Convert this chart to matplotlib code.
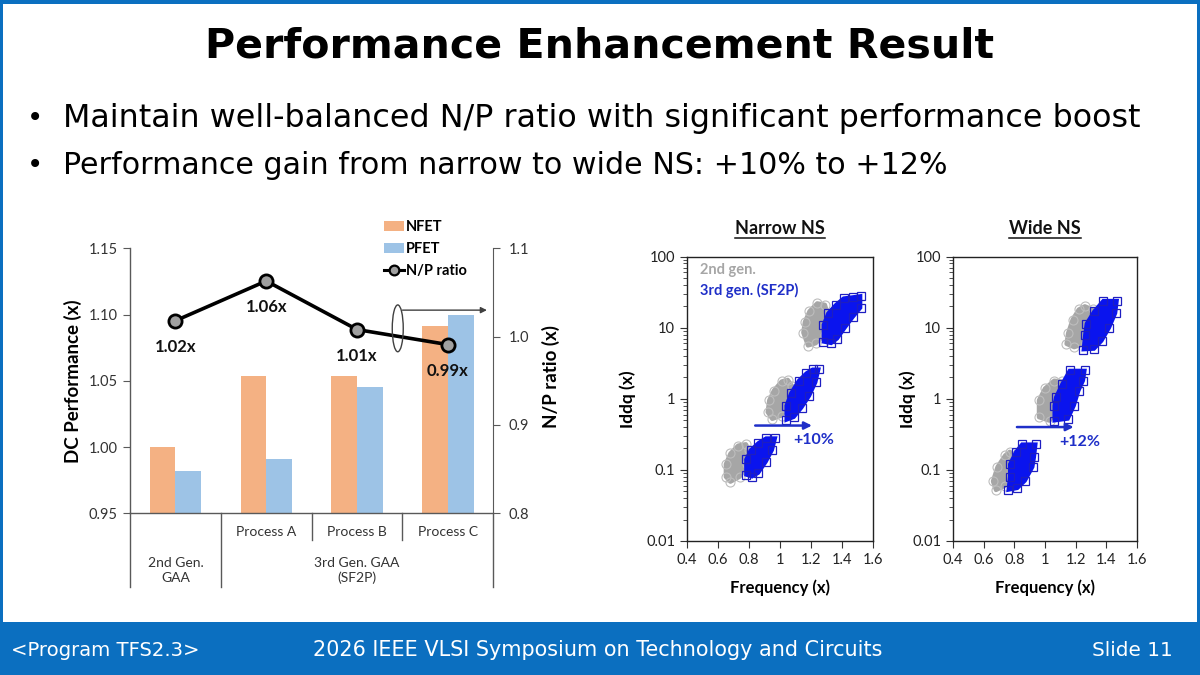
import numpy as np
import matplotlib
matplotlib.use('Agg')
import matplotlib.pyplot as plt
from matplotlib.patches import Rectangle, Ellipse, Patch
from matplotlib.lines import Line2D
import matplotlib.transforms as mtrans
import matplotlib.ticker as mt

# ---------------- data ----------------
title = "Performance Enhancement Result"
bullets = ["Maintain well-balanced N/P ratio with significant performance boost",
           "Performance gain from narrow to wide NS: +10% to +12%"]
footer_left = "<Program TFS2.3>"
footer_center = "2026 IEEE VLSI Symposium on Technology and Circuits"
footer_right = "Slide 11"

process_labels = ["", "Process A", "Process B", "Process C"]
gen_labels = ["2nd Gen.\nGAA", "3rd Gen. GAA\n(SF2P)"]
nfet = [1.000, 1.054, 1.054, 1.091]
pfet = [0.982, 0.991, 1.045, 1.100]
np_ratio = [1.018, 1.063, 1.008, 0.991]
np_labels = ["1.02x", "1.06x", "1.01x", "0.99x"]
left_ticks = [0.95, 1.00, 1.05, 1.10, 1.15]
right_ticks = [0.8, 0.9, 1.0, 1.1]

freq_ticks = [0.4, 0.6, 0.8, 1.0, 1.2, 1.4, 1.6]
freq_tick_labels = ["0.4", "0.6", "0.8", "1", "1.2", "1.4", "1.6"]
iddq_ticks = [0.01, 0.1, 1, 10, 100]
iddq_tick_labels = ["0.01", "0.1", "1", "10", "100"]

# cloud outlines (frequency, Iddq)
narrow_gray_top = [(1.15, 8.5), (1.16, 12), (1.19, 17), (1.24, 22), (1.29, 21), (1.31, 15), (1.29, 8), (1.23, 6.0), (1.18, 5.6)]
narrow_blue_top = [(1.28, 6.3), (1.28, 11), (1.31, 16), (1.36, 21), (1.41, 26), (1.47, 27), (1.52, 28), (1.52, 19), (1.47, 14), (1.42, 10), (1.37, 7), (1.33, 6.0)]
narrow_gray_mid = [(0.92, 0.65), (0.93, 0.95), (0.96, 1.3), (1.01, 1.75), (1.05, 1.85), (1.08, 1.5), (1.07, 0.9), (1.01, 0.58), (0.95, 0.52)]
narrow_blue_mid = [(1.04, 0.5), (1.04, 0.8), (1.07, 1.2), (1.12, 1.8), (1.17, 2.3), (1.21, 2.6), (1.25, 2.6), (1.23, 1.7), (1.19, 1.1), (1.14, 0.75), (1.09, 0.55)]
narrow_gray_low = [(0.65, 0.08), (0.65, 0.12), (0.68, 0.17), (0.73, 0.22), (0.78, 0.23), (0.80, 0.19), (0.79, 0.12), (0.74, 0.08), (0.68, 0.068)]
narrow_blue_low = [(0.78, 0.085), (0.78, 0.14), (0.81, 0.19), (0.86, 0.24), (0.91, 0.28), (0.97, 0.28), (0.95, 0.19), (0.91, 0.13), (0.86, 0.09), (0.82, 0.08)]

wide_gray_top = [(1.14, 5.9), (1.15, 8.3), (1.18, 13), (1.22, 18), (1.26, 20), (1.31, 18), (1.31, 10), (1.27, 6.0), (1.19, 5.3)]
wide_blue_top = [(1.25, 4.9), (1.26, 8), (1.27, 11.4), (1.32, 17), (1.38, 24), (1.47, 24), (1.46, 16), (1.42, 10), (1.37, 6.5), (1.32, 5.0)]
wide_gray_mid = [(0.96, 0.55), (0.96, 0.95), (1.00, 1.4), (1.06, 1.8), (1.11, 1.75), (1.11, 1.2), (1.08, 0.7), (1.03, 0.49)]
wide_blue_mid = [(1.06, 0.49), (1.06, 0.8), (1.07, 1.05), (1.11, 1.6), (1.16, 2.5), (1.26, 2.5), (1.25, 1.8), (1.22, 1.3), (1.19, 0.8), (1.15, 0.52)]
wide_gray_low = [(0.68, 0.052), (0.66, 0.069), (0.69, 0.11), (0.74, 0.16), (0.77, 0.18), (0.81, 0.16), (0.80, 0.10), (0.74, 0.06)]
wide_blue_low = [(0.76, 0.052), (0.77, 0.08), (0.77, 0.12), (0.81, 0.18), (0.85, 0.23), (0.94, 0.23), (0.93, 0.15), (0.92, 0.11), (0.87, 0.07), (0.82, 0.055)]

narrow_arrow = [(0.84, 0.42), (1.206, 0.42)]
wide_arrow = [(0.817, 0.40), (1.187, 0.40)]
narrow_gain = ("+10%", 1.215, 0.26)
wide_gain = ("+12%", 1.224, 0.245)

# ---------------- styling ----------------
W, H = 1200, 675
BLUE = '#0B6FC0'
NFET_C = '#F4B183'
PFET_C = '#9DC3E6'
GRAY_C = '#A6A6A6'
SBLUE = '#0A14EE'
TXT_BLUE = '#1F2FC8'
SLIDE_FONT = ['DejaVu Sans']
CH_FONT = ['Lato', 'DejaVu Sans']

fig = plt.figure(figsize=(12, 6.75), dpi=100)
fig.patch.set_facecolor('white')


def fx(x):
    return x / W


def fy(y):
    return 1 - y / H


def rect(l, t, r, b):
    return [l / W, 1 - b / H, (r - l) / W, (b - t) / H]


def band(l, t, r, b, color):
    fig.add_artist(Rectangle((l / W, 1 - b / H), (r - l) / W, (b - t) / H,
                             transform=fig.transFigure, facecolor=color,
                             edgecolor='none', zorder=0))


# frame and footer
band(0, 0, 1200, 4, BLUE)
band(0, 0, 3, 675, BLUE)
band(1197, 0, 1200, 675, BLUE)
band(0, 622, 1200, 675, BLUE)

renderer = fig.canvas.get_renderer()


def fit(t, width):
    w = t.get_window_extent(renderer).width
    t.set_fontsize(t.get_fontsize() * width / w)


t = fig.text(fx(600), fy(46), title, ha='center', va='center', fontsize=34,
             fontweight='bold', family=SLIDE_FONT, color='black')
fit(t, 790)

for i, (b, yy, ww) in enumerate(zip(bullets, [118, 165], [1077, 884])):
    fig.text(fx(35), fy(yy), "\u2022", ha='center', va='center', fontsize=20,
             family=SLIDE_FONT)
    tb = fig.text(fx(63), fy(yy), b, ha='left', va='center', fontsize=21,
                  family=SLIDE_FONT)
    fit(tb, ww)

f1 = fig.text(fx(11), fy(650), footer_left, ha='left', va='center', fontsize=15,
              color='white', family=SLIDE_FONT)
fit(f1, 189)
f2 = fig.text(fx(598), fy(650), footer_center, ha='center', va='center', fontsize=15,
              color='white', family=SLIDE_FONT)
fit(f2, 570)
f3 = fig.text(fx(1173), fy(650), footer_right, ha='right', va='center', fontsize=15,
              color='white', family=SLIDE_FONT)
fit(f3, 81)

# ---------------- bar chart ----------------
SP = '#595959'
ax = fig.add_axes(rect(130, 248.3, 493.3, 513.3))
x = np.arange(len(nfet))
bw = 0.283
ax.bar(x - bw / 2, nfet, width=bw, color=NFET_C, zorder=2)
ax.bar(x + bw / 2, pfet, width=bw, color=PFET_C, zorder=2)
ax.set_xlim(-0.5, 3.5)
ax.set_ylim(0.95, 1.15)
ax.set_yticks(left_ticks)
ax.set_yticklabels([f"{v:.2f}" for v in left_ticks])
ax.set_xticks([])
for s in ['top', 'right']:
    ax.spines[s].set_visible(False)
for s in ['left', 'bottom']:
    ax.spines[s].set_color(SP)
    ax.spines[s].set_linewidth(1)
ax.tick_params(axis='y', direction='out', length=5, color=SP, labelsize=10.5,
               labelcolor='#333333', pad=4)
for lab in ax.get_yticklabels():
    lab.set_family(CH_FONT)
ax.set_facecolor('none')

ax2 = ax.twinx()
ax2.set_ylim(0.8, 1.1)
ax2.set_yticks(right_ticks)
ax2.set_yticklabels([f"{v:.1f}" for v in right_ticks])
for s in ['top', 'left', 'bottom']:
    ax2.spines[s].set_visible(False)
ax2.spines['right'].set_color(SP)
ax2.tick_params(axis='y', direction='out', length=5, color=SP, labelsize=10.5,
                labelcolor='#333333', pad=6)
for lab in ax2.get_yticklabels():
    lab.set_family(CH_FONT)
ax2.plot(x, np_ratio, color='black', lw=2.6, marker='o', ms=9.5,
         mfc='#A0A0A0', mec='black', mew=2, zorder=5)
for xi, yi, lb in zip(x, np_ratio, np_labels):
    ax2.annotate(lb, (xi, yi), xytext=(0, -26), textcoords='offset pixels',
                 ha='center', va='center', fontsize=12, fontweight='bold',
                 family=CH_FONT, color='#111111')
ax2.add_patch(Ellipse((2.448, 1.0094), width=0.121, height=0.053, fill=False,
                      edgecolor='#404040', lw=1, zorder=6))
ax2.annotate('', xy=(3.43, 1.030), xytext=(2.50, 1.030),
             arrowprops=dict(arrowstyle='-|>', color='#404040', lw=1,
                             mutation_scale=9, shrinkA=0, shrinkB=0))

# category axis
bt = mtrans.blended_transform_factory(ax.transData, ax.transAxes)
for xb, depth in zip([-0.5, 0.5, 1.5, 2.5, 3.5], [-0.277, -0.277, -0.1, -0.1, -0.277]):
    ax.plot([xb, xb], [0, depth], transform=bt, clip_on=False, color=SP, lw=1)
for xi, lb in zip(x, process_labels):
    if lb:
        ax.text(xi, -0.069, lb, transform=bt, ha='center', va='center',
                fontsize=10, family=CH_FONT, color='#333333')
ax.text(0, -0.216, gen_labels[0], transform=bt, ha='center', va='center',
        fontsize=10, family=CH_FONT, color='#333333', linespacing=1.25)
ax.text(2, -0.216, gen_labels[1], transform=bt, ha='center', va='center',
        fontsize=10, family=CH_FONT, color='#333333', linespacing=1.25)

fig.text(fx(73), fy(381), "DC Performance (x)", rotation=90, ha='center',
         va='center', fontsize=13.5, fontweight='bold', family=CH_FONT)
fig.text(fx(551), fy(377), "N/P ratio (x)", rotation=90, ha='center',
         va='center', fontsize=13.5, fontweight='bold', family=CH_FONT)

handles = [Patch(facecolor=NFET_C, edgecolor='none'),
           Patch(facecolor=PFET_C, edgecolor='none'),
           Line2D([0], [0], color='black', lw=2.2, marker='o', ms=7,
                  mfc='#A0A0A0', mec='black', mew=1.6)]
fig.legend(handles, ["NFET", "PFET", "N/P ratio"], loc='upper left',
           bbox_to_anchor=(fx(384), fy(220)), frameon=False,
           prop=dict(family=CH_FONT, weight='bold', size=10.5),
           handlelength=1.35, handleheight=0.65, handletextpad=0.15,
           labelspacing=0.55, borderpad=0, borderaxespad=0)

# ---------------- scatter panels ----------------
panels = [
    ("Narrow NS", (687, 256.5, 873, 541), 628,
     [narrow_gray_top, narrow_gray_mid, narrow_gray_low],
     [narrow_blue_top, narrow_blue_mid, narrow_blue_low],
     narrow_arrow, narrow_gain, True),
    ("Wide NS", (953, 256.5, 1137, 541), 908,
     [wide_gray_top, wide_gray_mid, wide_gray_low],
     [wide_blue_top, wide_blue_mid, wide_blue_low],
     wide_arrow, wide_gain, False),
]

for name, (l, tp, r, b), ylab_x, grays, blues, arr, gain, show_leg in panels:
    a = fig.add_axes(rect(l, tp, r, b))
    a.set_yscale('log')
    a.set_xlim(0.4, 1.6)
    a.set_ylim(0.01, 100)
    a.set_xticks(freq_ticks)
    a.set_xticklabels(freq_tick_labels)
    a.set_yticks(iddq_ticks)
    a.set_yticklabels(iddq_tick_labels)
    a.yaxis.set_minor_locator(mt.LogLocator(base=10, subs=np.arange(2, 10)))
    a.yaxis.set_minor_formatter(mt.NullFormatter())
    a.tick_params(axis='both', which='major', direction='out', length=5,
                  labelsize=10.5, color='#333333', labelcolor='#222222')
    a.tick_params(axis='y', which='minor', direction='out', length=3,
                  color='#333333')
    for lab in a.get_xticklabels() + a.get_yticklabels():
        lab.set_family(CH_FONT)
    for s in a.spines.values():
        s.set_color('#222222')
        s.set_linewidth(1)

    for pts in grays:
        f, v = zip(*pts)
        a.fill(f, v, facecolor=GRAY_C, edgecolor=GRAY_C, lw=3,
               joinstyle='round', zorder=2)
        a.plot(f, v, ls='none', marker='o', ms=6.5, mfc='none', mec='#BDBDBD',
               mew=0.8, zorder=2)
    for pts in blues:
        f, v = zip(*pts)
        a.fill(f, v, facecolor=SBLUE, edgecolor=SBLUE, lw=2.5,
               joinstyle='miter', zorder=3)
        a.plot(f, v, ls='none', marker='s', ms=6, mfc='none', mec='#1E1EC0',
               mew=0.9, zorder=3)

    (x0, y0), (x1, y1) = arr
    a.annotate('', xy=(x1, y1), xytext=(x0, y0),
               arrowprops=dict(arrowstyle='-|>', color=TXT_BLUE, lw=1.8,
                               mutation_scale=11, shrinkA=0, shrinkB=0), zorder=4)
    a.text(gain[1], gain[2], gain[0], ha='center', va='center', fontsize=11.5,
           fontweight='bold', color=TXT_BLUE, family=CH_FONT, zorder=4)

    if show_leg:
        a.text(0.07, 0.953, "2nd gen.", transform=a.transAxes, ha='left',
               va='center', fontsize=10.5, fontweight='bold', color=GRAY_C,
               family=CH_FONT)
        a.text(0.07, 0.882, "3rd gen. (SF2P)", transform=a.transAxes, ha='left',
               va='center', fontsize=10.5, fontweight='bold', color=TXT_BLUE,
               family=CH_FONT)

    cx = (l + r) / 2
    tt = fig.text(fx(cx), fy(229), name, ha='center', va='center', fontsize=13,
                  fontweight='bold', family=CH_FONT, color='#111111')
    bb = tt.get_window_extent(renderer)
    fig.add_artist(Line2D([bb.x0 / W, bb.x1 / W], [fy(237.5), fy(237.5)],
                          transform=fig.transFigure, color='#111111', lw=1.1))
    fig.text(fx(ylab_x), fy(399), "Iddq (x)", rotation=90, ha='center',
             va='center', fontsize=12.5, fontweight='bold', family=CH_FONT)
    fig.text(fx(cx), fy(588), "Frequency (x)", ha='center', va='center',
             fontsize=12, fontweight='bold', family=CH_FONT)

fig.savefig('out.png', dpi=100, facecolor='white')
